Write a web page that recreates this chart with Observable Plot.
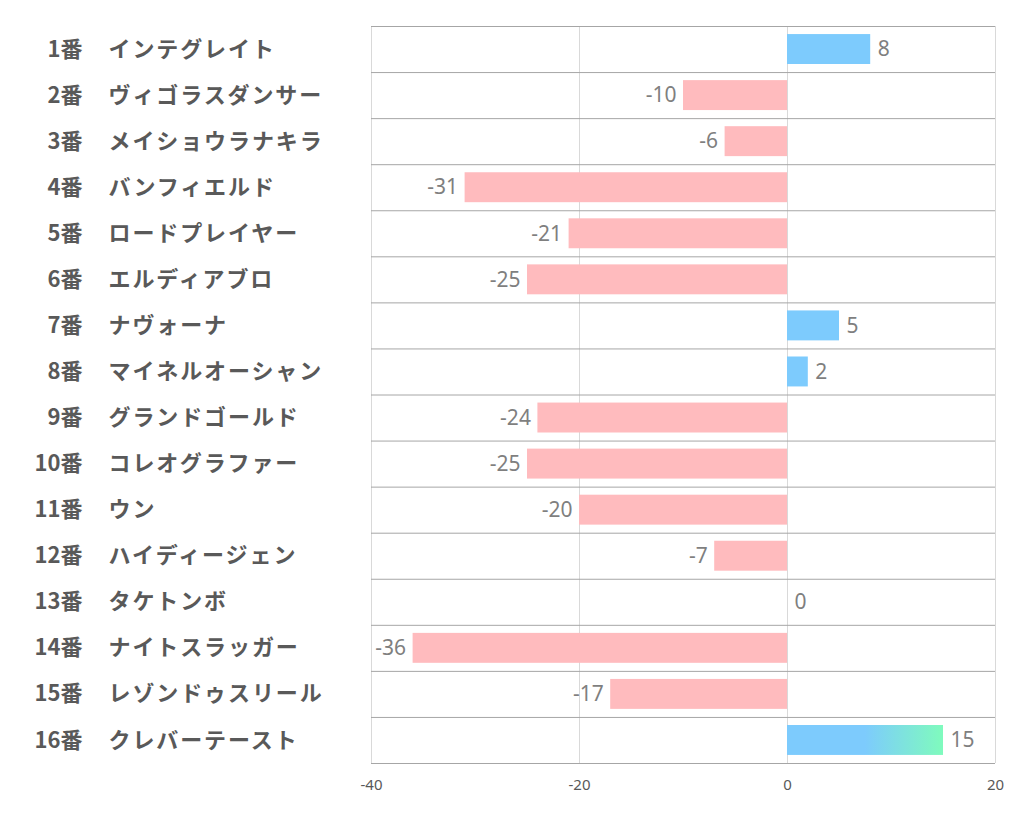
<!DOCTYPE html>
<html>
<head>
<meta charset="utf-8">
<script src="https://cdn.jsdelivr.net/npm/d3@7"></script>
<script src="https://cdn.jsdelivr.net/npm/@observablehq/plot@0.6"></script>
<style>
  html, body { margin: 0; padding: 0; background: #fff; }
</style>
</head>
<body>
<div id="chart"></div>
<script>
const numbers = ["1番","2番","3番","4番","5番","6番","7番","8番","9番","10番","11番","12番","13番","14番","15番","16番"];
const names = ["インテグレイト","ヴィゴラスダンサー","メイショウラナキラ","バンフィエルド","ロードプレイヤー","エルディアブロ","ナヴォーナ","マイネルオーシャン","グランドゴールド","コレオグラファー","ウン","ハイディージェン","タケトンボ","ナイトスラッガー","レゾンドゥスリール","クレバーテースト"];
const values = [8, -10, -6, -31, -21, -25, 5, 2, -24, -25, -20, -7, 0, -36, -17, 15];
const xTicks = [-40, -20, 0, 20];
const highlight = [15]; // index of gradient bar

const rows = values.map((v, i) => ({i, num: numbers[i], name: names[i], value: v}));
const rowEdges = d3.range(values.length + 1);

const barFill = d => highlight.includes(d.i) ? "url(#gradBar)" : (d.value >= 0 ? "#7dcbfd" : "#ffbbbe");

const chart = Plot.plot({
  width: 1022,
  height: 834,
  marginLeft: 371,
  marginRight: 27,
  marginTop: 26,
  marginBottom: 71,
  style: {background: "#fff", fontFamily: "'Noto Sans', 'Noto Sans CJK JP', sans-serif"},
  x: {domain: [-40, 20], label: null},
  y: {domain: [0, values.length], reverse: true, axis: null},
  marks: [
    Plot.ruleX(xTicks, {stroke: "#d9d9d9", strokeWidth: 1}),
    Plot.ruleY(rowEdges, {stroke: "#a6a6a6", strokeWidth: 1}),
    Plot.rectX(rows, {x1: 0, x2: "value", y1: d => d.i + 0.175, y2: d => d.i + 0.825, fill: barFill}),
    Plot.text(rows.filter(d => d.value >= 0), {x: "value", y: d => d.i + 0.5, text: d => String(d.value), textAnchor: "start", dx: 7, fontSize: 21, fill: "#7f7f7f"}),
    Plot.text(rows.filter(d => d.value < 0), {x: "value", y: d => d.i + 0.5, text: d => String(d.value), textAnchor: "end", dx: -7, fontSize: 21, fill: "#7f7f7f"}),
    Plot.text(rows, {y: d => d.i + 0.5, text: "num", frameAnchor: "left", textAnchor: "end", dx: -289, fontSize: 22, fontWeight: "bold", fill: "#595959", fontFamily: "'Noto Sans CJK JP', sans-serif"}),
    Plot.text(rows, {y: d => d.i + 0.5, text: "name", frameAnchor: "left", textAnchor: "start", dx: -263, fontSize: 22, fontWeight: "bold", fill: "#595959", fontFamily: "'Noto Sans CJK JP', sans-serif"}),
    Plot.axisX({ticks: xTicks, tickSize: 0, tickPadding: 16, fontSize: 15, color: "#595959", tickFormat: d => String(d), label: null})
  ]
});

// letter spacing for the horse names
d3.select(chart).selectAll("text")
  .filter(function () { return names.includes(this.textContent); })
  .style("letter-spacing", "1.9px");

const ns = "http://www.w3.org/2000/svg";
const defs = document.createElementNS(ns, "defs");
const grad = document.createElementNS(ns, "linearGradient");
grad.setAttribute("id", "gradBar");
grad.setAttribute("x1", "0"); grad.setAttribute("x2", "1");
grad.setAttribute("y1", "0"); grad.setAttribute("y2", "0");
[["0", "#7dcbfd"], ["0.5", "#7dcbfd"], ["1", "#7ffbbd"]].forEach(([o, c]) => {
  const s = document.createElementNS(ns, "stop");
  s.setAttribute("offset", o); s.setAttribute("stop-color", c);
  grad.appendChild(s);
});
defs.appendChild(grad);
chart.insertBefore(defs, chart.firstChild);

document.getElementById("chart").appendChild(chart);
</script>
</body>
</html>
